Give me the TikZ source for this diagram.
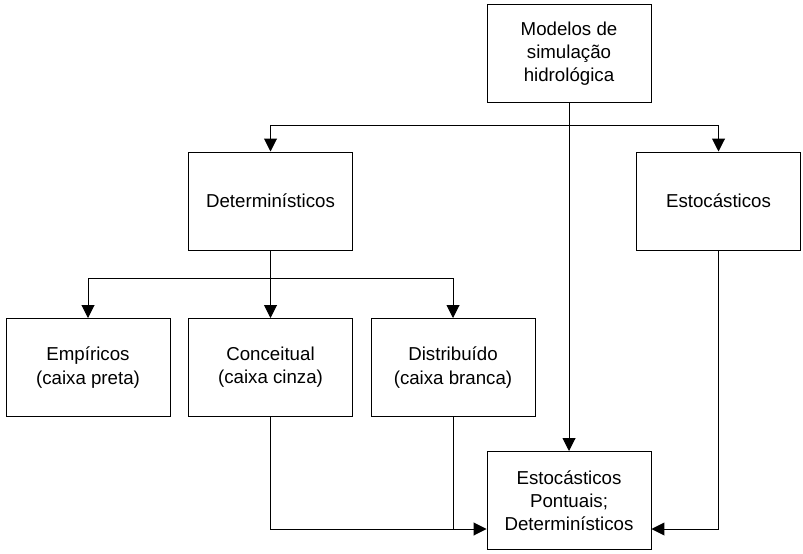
\documentclass[tikz,border=0pt]{standalone}
\usepackage{fontspec}
\setmainfont{Liberation Sans}
\usepackage{tikz}
\usetikzlibrary{arrows.meta}

\begin{document}
\begin{tikzpicture}[scale=1]
			\tikzstyle{modelbox}=[draw,rectangle,text centered,align=center,line width=0.7pt,minimum width=4.1cm,minimum height=2.45cm,font=\fontsize{13.3}{16.5}\selectfont]
			\tikzstyle{conn}=[line width=0.7pt,-{Triangle[length=3.2mm,width=3.2mm]}]
			\useasboundingbox (0,0) rectangle (20.075,13.825);
			
			\node[modelbox] (mod) at (14.225,12.4875) {Modelos de\\simulação\\hidrológica};
			\node[modelbox] (det) at (6.7625,8.8) {Determinísticos};
			\node[modelbox] (est) at (17.9625,8.8) {Estocásticos};
			\node[modelbox] (emp) at (2.2,4.6375) {Empíricos\\(caixa preta)};
			\node[modelbox] (con) at (6.7625,4.6375) {Conceitual\\(caixa cinza)};
			\node[modelbox] (dis) at (11.325,4.6375) {Distribuído\\(caixa branca)};
			\node[modelbox] (pon) at (14.225,1.3125) {Estocásticos\\Pontuais;\\Determinísticos};
			
			\coordinate (join) at (14.225,0.6);
			
			\draw[conn] (mod.south) -- ++(0,-0.575) -| (det.north);
			\draw[conn] (mod.south) -- ++(0,-0.575) -| (est.north);
			\draw[conn] (mod.south) -- (pon.north);
			
			\draw[conn] (det.south) -- ++(0,-0.7) -| (emp.north);
			\draw[conn] (det.south) -- (con.north);
			\draw[conn] (det.south) -- ++(0,-0.7) -| (dis.north);
			
			\draw[conn] (con.south) |- (pon.west |- join);
			\draw[-,line width=0.7pt] (dis.south) -- (dis.south |- join);
			\draw[conn] (est.south) |- (pon.east |- join);
			
		\end{tikzpicture}
\end{document}
